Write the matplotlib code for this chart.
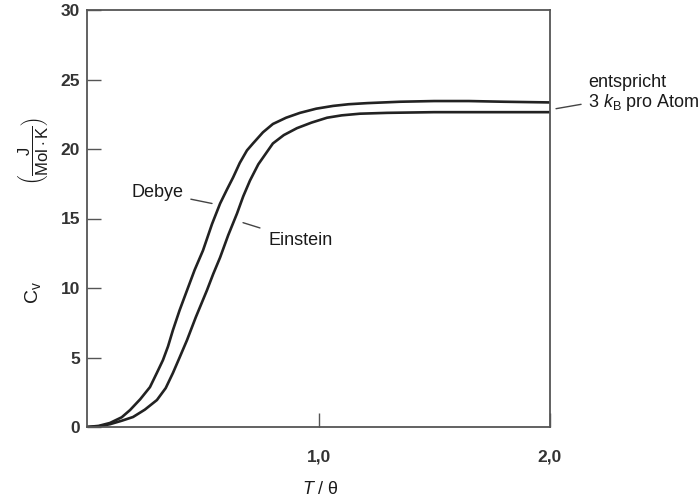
import matplotlib
matplotlib.use("Agg")
import matplotlib.pyplot as plt

plt.rcParams['font.family'] = ['Liberation Sans', 'DejaVu Sans']
plt.rcParams['mathtext.fontset'] = 'custom'
plt.rcParams['mathtext.rm'] = 'Liberation Sans'
plt.rcParams['mathtext.it'] = 'Liberation Sans:italic'

# Data
debye_t = [0.0, 0.05, 0.099, 0.15, 0.186, 0.23, 0.272, 0.302, 0.328, 0.35, 0.371,
           0.40, 0.432, 0.465, 0.501, 0.54, 0.575, 0.605, 0.631, 0.66, 0.691,
           0.717, 0.76, 0.803, 0.86, 0.92, 0.99, 1.063, 1.13, 1.21, 1.352,
           1.5, 1.65, 1.8, 2.0]
debye_c = [0.0, 0.08, 0.29, 0.7, 1.22, 2.0, 2.87, 3.9, 4.81, 5.8, 6.96,
           8.4, 9.83, 11.3, 12.7, 14.6, 16.08, 17.1, 17.95, 19.0, 19.9,
           20.4, 21.2, 21.8, 22.25, 22.6, 22.9, 23.1, 23.22, 23.3, 23.4,
           23.45, 23.45, 23.4, 23.35]
einstein_t = [0.0, 0.05, 0.099, 0.15, 0.199, 0.25, 0.302, 0.34, 0.371, 0.40, 0.432,
              0.47, 0.518, 0.545, 0.575, 0.61, 0.648, 0.675, 0.704, 0.74, 0.782,
              0.803, 0.85, 0.907, 0.97, 1.037, 1.10, 1.179, 1.296, 1.5, 1.75, 2.0]
einstein_c = [0.0, 0.04, 0.2, 0.45, 0.72, 1.25, 1.94, 2.8, 3.88, 5.0, 6.25,
              7.9, 9.83, 11.0, 12.2, 13.8, 15.36, 16.6, 17.73, 18.9, 19.9,
              20.4, 21.0, 21.5, 21.9, 22.25, 22.42, 22.54, 22.6, 22.65, 22.65, 22.65]

yticks = [0, 5, 10, 15, 20, 25, 30]
xticks = [1.0, 2.0]
xticklabels = ["1,0", "2,0"]

fig = plt.figure(figsize=(6.99, 4.99), dpi=100)
ax = fig.add_axes([87/699, 1-427/499, (550-87)/699, (427-10)/499])

line_col = '#222222'
ax.plot(debye_t, debye_c, color=line_col, lw=1.9, solid_capstyle='round',
        solid_joinstyle='round')
ax.plot(einstein_t, einstein_c, color=line_col, lw=1.9, solid_capstyle='round',
        solid_joinstyle='round')

ax.set_xlim(0, 2.0)
ax.set_ylim(0, 30)
ax.set_xticks(xticks)
ax.set_xticklabels(xticklabels)
ax.set_yticks(yticks)
for s in ax.spines.values():
    s.set_color('#555555')
    s.set_linewidth(1.3)
ax.tick_params(direction='in', length=10, width=1.0, color='#555555',
               labelsize=12.5, labelcolor='#333333')
ax.tick_params(axis='x', pad=16)
ax.tick_params(axis='y', pad=5)
for lab in ax.get_xticklabels() + ax.get_yticklabels():
    lab.set_fontweight('bold')

# Annotations
txt_col = '#1a1a1a'
fs = 13
ax.annotate('Debye', xy=(0.540, 16.08), xytext=(0.419, 16.87), fontsize=fs,
            color=txt_col, ha='right', va='center',
            arrowprops=dict(arrowstyle='-', color='#444444', lw=1.0,
                            shrinkA=3, shrinkB=0))
ax.annotate('Einstein', xy=(0.674, 14.7), xytext=(0.782, 13.42), fontsize=fs,
            color=txt_col, ha='left', va='center',
            arrowprops=dict(arrowstyle='-', color='#444444', lw=1.0,
                            shrinkA=4, shrinkB=0))
ax.annotate('entspricht\n3 $k_{\\mathrm{B}}$ pro Atom', xy=(2.026, 22.9),
            xytext=(2.164, 24.0), fontsize=fs, color=txt_col,
            ha='left', va='center', linespacing=1.05, annotation_clip=False,
            arrowprops=dict(arrowstyle='-', color='#444444', lw=1.0,
                            shrinkA=3, shrinkB=0))

fig.text(320/699, 1-490/499, '$T$ / θ', fontsize=fs, color=txt_col,
         ha='center', va='center')
fig.text(33/699, 1-292/499, r'$\mathrm{C}_{\mathrm{v}}$', fontsize=14, color=txt_col,
         ha='center', va='center', rotation=90)
fig.text(33/699, 1-151/499,
         r'$\left(\dfrac{\mathrm{J}}{\mathrm{Mol\cdot K}}\right)$',
         fontsize=12, color=txt_col, ha='center', va='center', rotation=90)

fig.savefig('out.png', dpi=100)
